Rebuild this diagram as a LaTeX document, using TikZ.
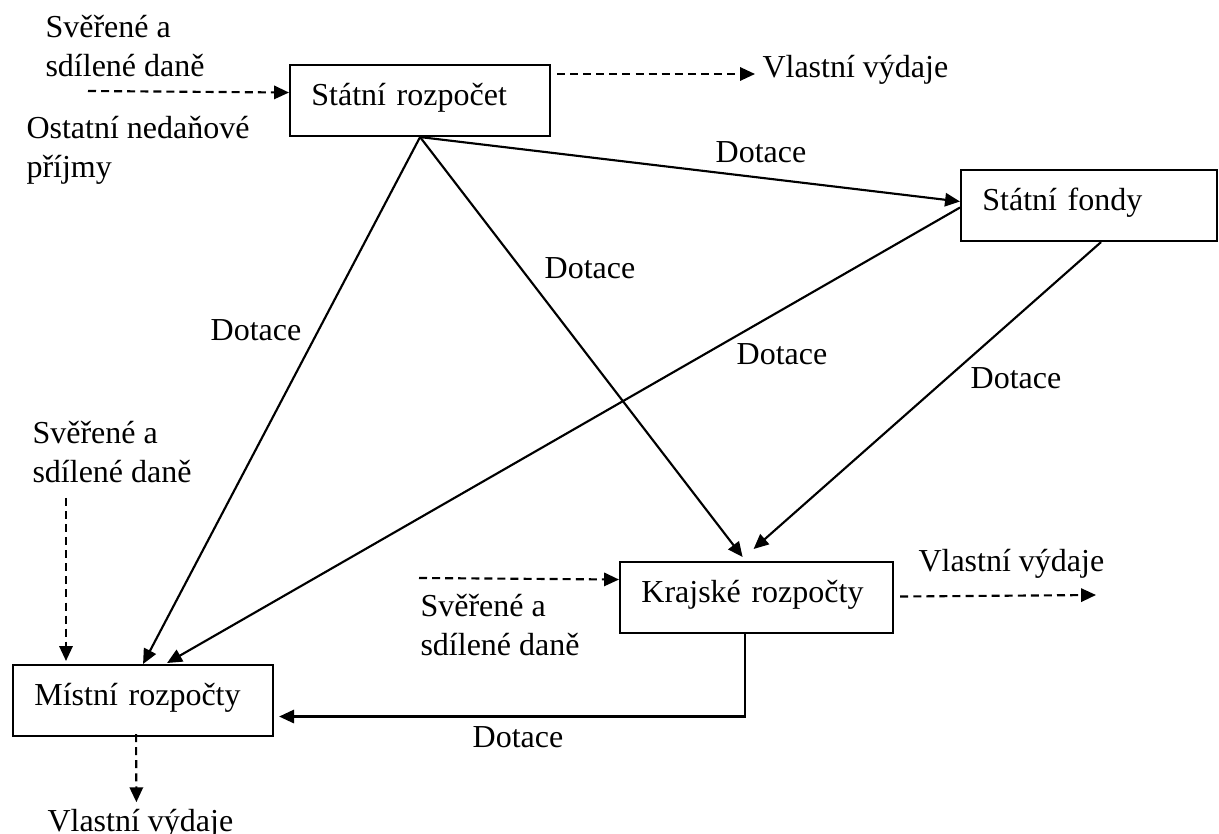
\documentclass[tikz,border=0pt]{standalone}
\usepackage{fontspec}
\setmainfont{Liberation Serif}
\usepackage{tikz}
\usetikzlibrary{arrows.meta}
\tikzset{
  budget/.style={rectangle,draw,line width=0.8pt,anchor=north west,
    minimum height=26.6pt,inner xsep=8pt,inner ysep=0pt,text width=#1,
    align=left,text height=0.7em,text depth=0.36em,
    font=\fontsize{12pt}{14.6pt}\selectfont},
  arrow/.style={->,>={Triangle[length=5.6pt,width=5pt]},line width=0.8pt},
  flow/.style={->,>={Triangle[length=5.6pt,width=5pt]},line width=0.8pt,
    dash pattern=on 3pt off 1.9pt},
  note/.style={anchor=north west,inner sep=0pt,align=left,
    font=\fontsize{12pt}{14.6pt}\selectfont},
  spend/.style={anchor=base west,inner sep=0pt,
    font=\fontsize{12pt}{14.6pt}\selectfont},
  grant/.style={inner sep=0pt,font=\fontsize{12pt}{14.6pt}\selectfont}
}

\begin{document}
\begin{tikzpicture}[x=0.375pt,y=-0.375pt]
\useasboundingbox (0,0) rectangle (1219,834);

% budgets
\node[budget=81.5pt] (sr) at (289,64) {Státní rozpočet};
\node[budget=80pt] (sf) at (960,169) {Státní fondy};
\node[budget=86.4pt] (kr) at (619,561) {Krajské rozpočty};
\node[budget=81.5pt] (mr) at (12,664) {Místní rozpočty};

% incomes and spending
\node[note] (taxsrlbl) at (45,15) {Svěřené a\\sdílené daně};
\node[note] (othersr) at (26,116) {Ostatní nedaňové\\příjmy};
\node[spend] (vsr) at (762,78) {Vlastní výdaje};
\node[note] (taxmrlbl) at (32,421) {Svěřené a\\sdílené daně};
\node[note] (taxkrlbl) at (420,594) {Svěřené a\\sdílené daně};
\node[spend] (vkr) at (918,572) {Vlastní výdaje};
\node[spend] (vmr) at (47,831) {Vlastní výdaje};

\coordinate (taxsr) at (88,91);
\coordinate (taxkr) at (419,578);
\coordinate (taxmr) at (66,498);
\coordinate (spendkr) at (1096,595);

% grants
\node[grant] (dsf) at (761,152) {Dotace};
\node[grant] (dkr) at (590,268) {Dotace};
\node[grant] (dmr) at (256,330) {Dotace};
\node[grant] (dsfmr) at (782,354) {Dotace};
\node[grant] (dsfkr) at (1016,378) {Dotace};
\node[grant] (dkrmr) at (518,737) {Dotace};

\draw[flow] (taxsr) -- ([shift={(0,-8)}]sr.west);
\draw[flow] ([shift={(6,10)}]sr.north east) -- ([shift={(-7,-4)}]vsr.base west);
\draw[arrow] (sr.south) -- ([shift={(0,-4)}]sf.west);
\draw[arrow] (sr.south) -- (mr.north);
\draw[arrow] (sr.south) -- ([shift={(-14,-4)}]kr.north);
\draw[arrow] ([shift={(0,2)}]sf.west) -- ([shift={(24,-1)}]mr.north);
\draw[arrow] ([shift={(12,0)}]sf.south) -- ([shift={(-3,-12)}]kr.north);
\draw[arrow] ([shift={(-12,0)}]kr.south) |- ([shift={(5,16)}]mr.east);
\draw[flow] (taxkr) -- ([shift={(0,-18)}]kr.west);
\draw[flow] ([shift={(6,-1)}]kr.east) -- (spendkr);
\draw[flow] (taxmr) -- ([shift={(54,-3)}]mr.north west);
\draw[flow] ([shift={(-7,-3)}]mr.south) -- ([shift={(-4,-6)}]vmr.north);
\end{tikzpicture}
\end{document}
